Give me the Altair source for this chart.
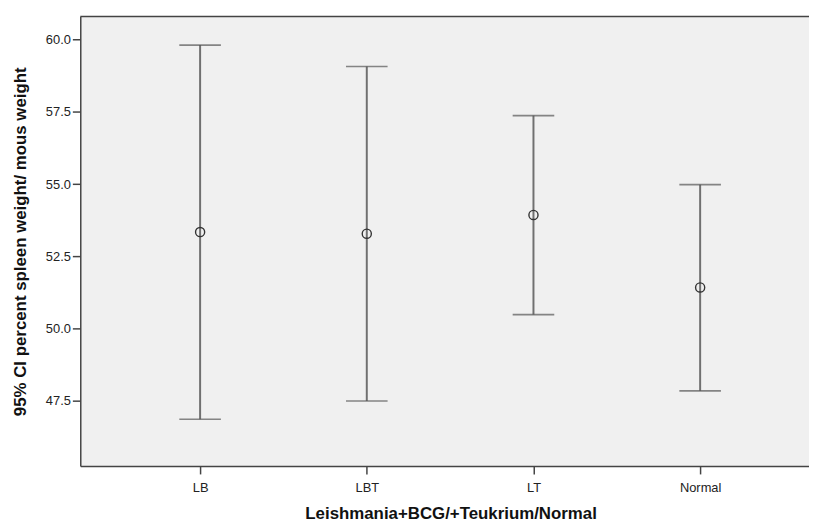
import altair as alt
import pandas as pd

groups = ["LB", "LBT", "LT", "Normal"]
means = [53.34, 53.28, 53.93, 51.42]
lower = [46.86, 47.49, 50.48, 47.84]
upper = [59.81, 59.07, 57.37, 54.98]
y_ticks = [47.5, 50.0, 52.5, 55.0, 57.5, 60.0]

df = pd.DataFrame({"group": groups, "mean": means, "lower": lower, "upper": upper})

W, H = 736, 454
FONT = "Liberation Sans"

xscale = alt.Scale(type="point", domain=groups, padding=0.686, align=0.524)
yscale = alt.Scale(domain=[45.24, 60.80], nice=False, zero=False)

x_axis = alt.Axis(
    title="Leishmania+BCG/+Teukrium/Normal", labelAngle=0, titleX=374,
    domainColor="#444444", domainWidth=1.5, tickColor="#444444", tickWidth=1.5,
    tickSize=8, labelPadding=8, labelFont=FONT, labelFontSize=13, labelColor="#222222",
    titleFont=FONT, titleFontSize=17, titleFontWeight="bold", titleColor="#111111",
    titlePadding=11, grid=False,
)
y_axis = alt.Axis(
    title="95% CI percent spleen weight/ mous weight", values=y_ticks, format=".1f",
    domainColor="#444444", domainWidth=1.5, tickColor="#444444", tickWidth=1.5,
    tickSize=8, labelPadding=2, labelFont=FONT, labelFontSize=13, labelColor="#222222",
    titleFont=FONT, titleFontSize=17, titleFontWeight="bold", titleColor="#111111",
    titlePadding=16, grid=False,
)

base = alt.Chart(df).encode(x=alt.X("group:N", scale=xscale, axis=x_axis))

bars = base.mark_rule(color="#707070", strokeWidth=2).encode(
    y=alt.Y("lower:Q", scale=yscale, axis=y_axis), y2="upper:Q"
)
cap_lo = base.mark_tick(color="#555555", thickness=1.6, size=42).encode(
    y=alt.Y("lower:Q", scale=yscale)
)
cap_hi = base.mark_tick(color="#555555", thickness=1.6, size=42).encode(
    y=alt.Y("upper:Q", scale=yscale)
)
pts = base.mark_point(shape="circle", filled=False, size=85, color="#333333",
                      strokeWidth=1.4, opacity=1).encode(
    y=alt.Y("mean:Q", scale=yscale)
)
top = alt.Chart(alt.Data(values=[{"a": 1}])).mark_rule(color="#444444", strokeWidth=1.5).encode(
    x=alt.value(0), x2=alt.value(W), y=alt.value(0)
)

chart = alt.layer(bars, cap_lo, cap_hi, pts, top).properties(
    width=W, height=H,
    autosize=alt.AutoSizeParams(type="none"),
    padding={"left": 73, "top": 6, "right": 0, "bottom": 58},
    background="white",
).configure_view(fill="#f0f0f0", stroke=None)

chart.save("out.html", embed_options={"renderer": "svg", "actions": False})
